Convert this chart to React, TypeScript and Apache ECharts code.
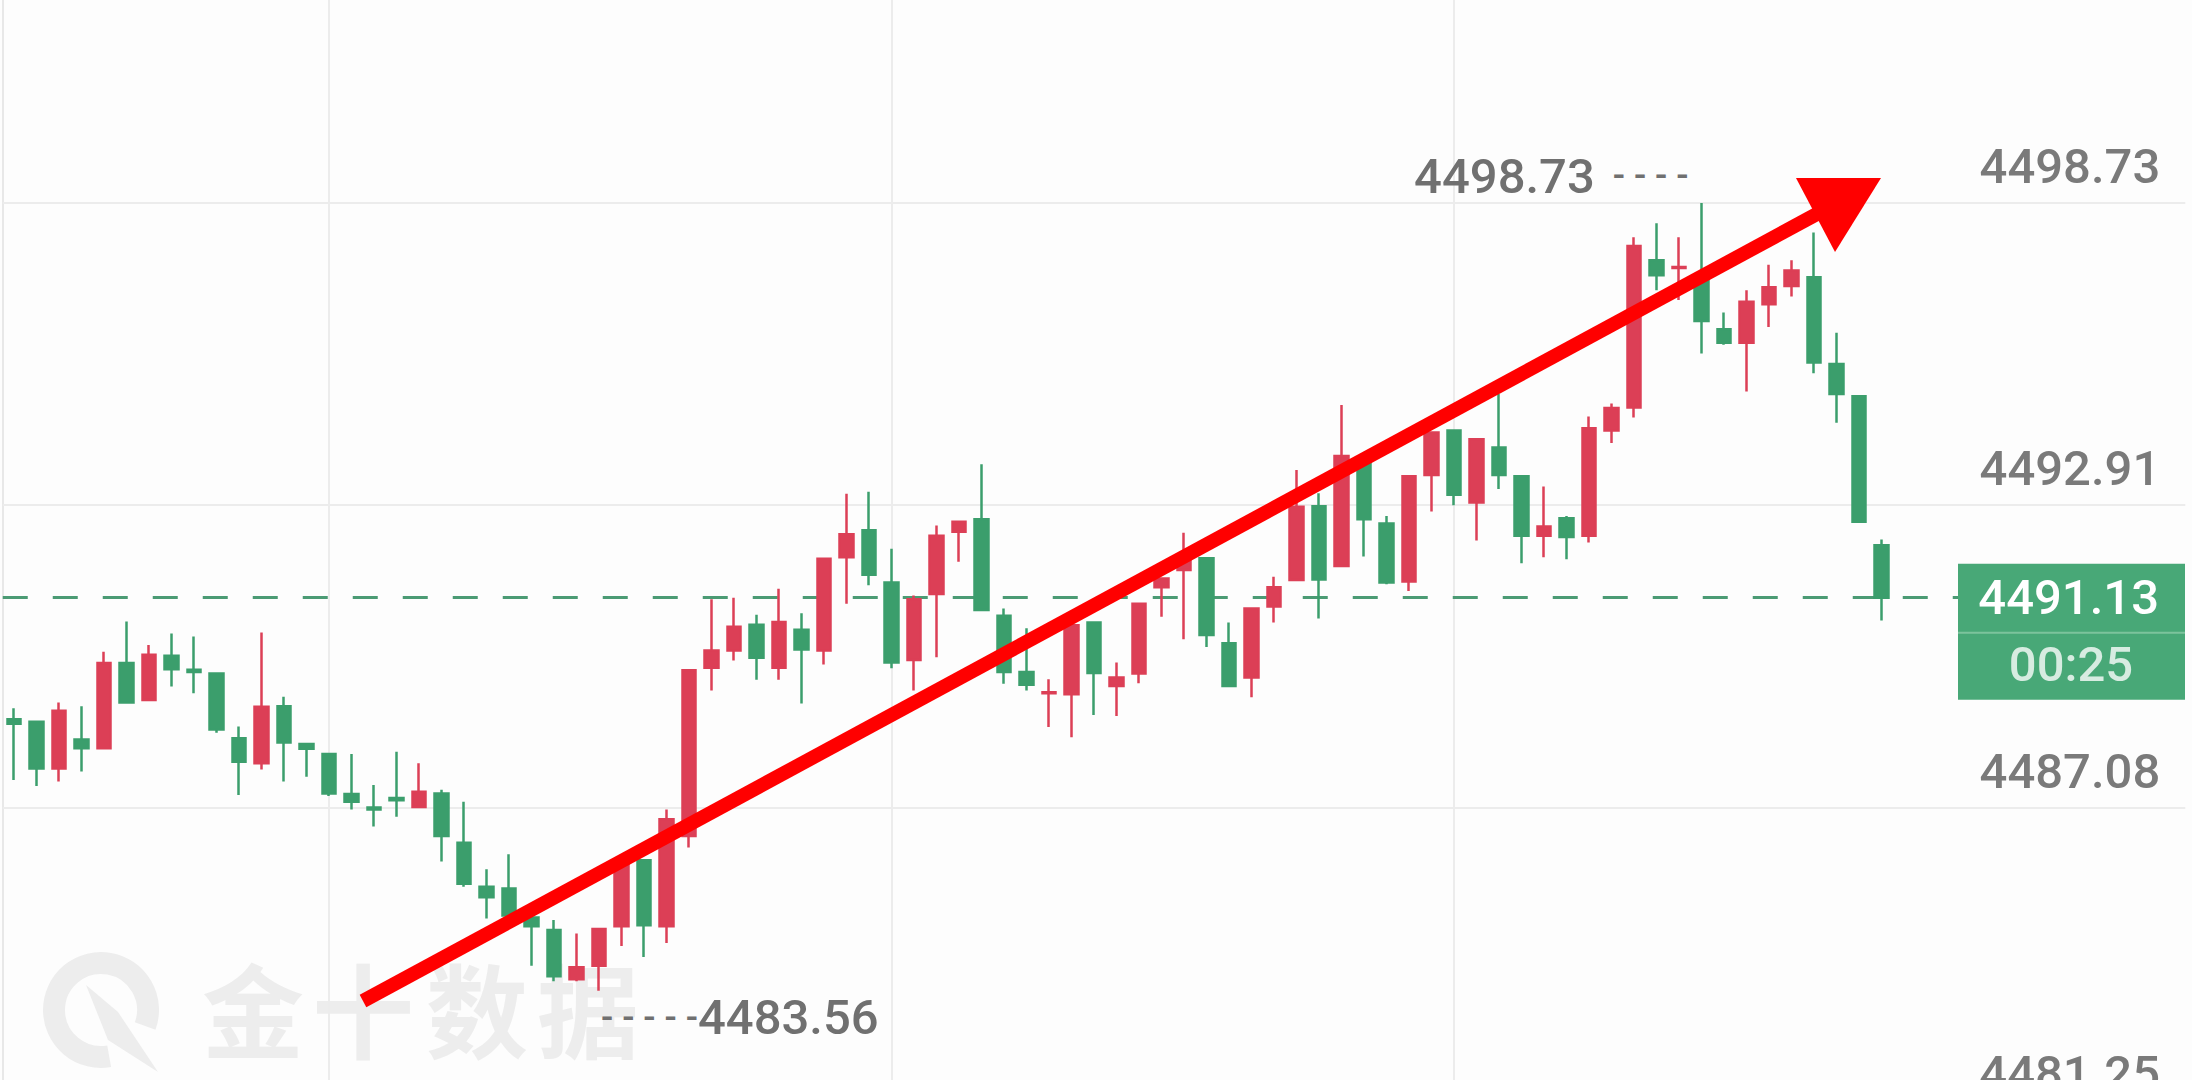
import { useEffect, useRef } from "react";
import * as echarts from "echarts";

// ---- data ----
const categories = Array.from({ length: 97 }, (_, i) => String(i));

const opens = [
  4488.79, 4488.74, 4487.84, 4488.40, 4488.23, 4489.87, 4489.16, 4490.01, 4489.74, 4489.67,
  4488.42, 4487.94, 4489.04, 4488.31, 4488.12, 4487.35, 4487.09, 4487.27, 4487.10, 4487.36,
  4486.41, 4485.56, 4485.53, 4484.97, 4484.73, 4483.78, 4484.04, 4484.80, 4486.07, 4484.80,
  4486.54, 4489.78, 4490.11, 4490.61, 4489.78, 4490.51, 4490.11, 4491.91, 4492.43, 4491.42,
  4489.93, 4491.20, 4492.40, 4492.64, 4490.78, 4489.70, 4489.29, 4489.27, 4490.65, 4489.43,
  4489.67, 4491.33, 4491.66, 4491.89, 4490.25, 4489.59, 4490.96, 4491.47, 4492.89, 4491.74,
  4493.73, 4492.56, 4491.44, 4493.49, 4494.35, 4492.96, 4494.02, 4493.47, 4492.32, 4492.66,
  4492.32, 4494.35, 4494.79, 4497.63, 4497.48, 4497.30, 4496.30, 4496.04, 4496.78, 4497.13,
  4497.30, 4495.63, 4495.01, 4492.14,
];
const closes = [
  4488.70, 4487.84, 4488.95, 4488.23, 4489.87, 4489.11, 4490.03, 4489.75, 4489.70, 4488.59,
  4487.97, 4489.03, 4488.34, 4488.22, 4487.36, 4487.20, 4487.05, 4487.23, 4487.39, 4486.54,
  4485.62, 4485.36, 4485.01, 4484.80, 4483.84, 4484.01, 4484.75, 4486.07, 4484.82, 4486.86,
  4489.73, 4490.11, 4490.57, 4489.97, 4490.66, 4490.13, 4491.88, 4492.35, 4491.57, 4489.88,
  4491.10, 4492.32, 4492.59, 4490.89, 4489.70, 4489.45, 4489.31, 4490.60, 4489.68, 4489.59,
  4491.01, 4491.50, 4491.89, 4490.41, 4489.43, 4490.92, 4491.33, 4492.88, 4491.48, 4493.86,
  4492.64, 4491.42, 4493.47, 4494.31, 4493.11, 4494.18, 4493.49, 4492.32, 4492.50, 4492.30,
  4494.39, 4494.78, 4497.90, 4497.34, 4497.50, 4496.46, 4496.04, 4496.83, 4497.11, 4497.43,
  4495.66, 4495.05, 4492.59, 4491.13,
];
const lows = [
  4487.62, 4487.50, 4487.59, 4487.78, 4488.23, 4489.11, 4489.15, 4489.42, 4489.29, 4488.53,
  4487.33, 4487.82, 4487.59, 4487.68, 4487.31, 4487.05, 4486.72, 4486.91, 4487.10, 4486.05,
  4485.56, 4484.95, 4484.98, 4484.04, 4483.74, 4483.74, 4483.56, 4484.42, 4484.21, 4484.48,
  4486.32, 4489.34, 4489.92, 4489.55, 4489.55, 4489.09, 4489.84, 4491.01, 4491.37, 4489.77,
  4489.34, 4489.98, 4491.82, 4490.89, 4489.47, 4489.34, 4488.64, 4488.44, 4488.87, 4488.85,
  4489.48, 4490.76, 4490.33, 4490.18, 4489.43, 4489.21, 4490.65, 4491.47, 4490.73, 4491.74,
  4491.92, 4491.39, 4491.26, 4492.79, 4492.91, 4492.23, 4493.22, 4491.79, 4491.91, 4491.87,
  4492.19, 4494.11, 4494.60, 4497.05, 4496.86, 4495.83, 4496.00, 4495.10, 4496.34, 4496.93,
  4495.45, 4494.50, 4492.59, 4490.69,
];
const highs = [
  4489.00, 4488.74, 4489.11, 4489.04, 4490.09, 4490.67, 4490.22, 4490.44, 4490.38, 4489.67,
  4488.65, 4490.46, 4489.22, 4488.31, 4488.12, 4488.12, 4487.52, 4488.16, 4487.94, 4487.43,
  4487.20, 4485.90, 4486.19, 4484.97, 4484.92, 4484.66, 4484.75, 4486.10, 4486.07, 4487.05,
  4489.73, 4491.10, 4491.13, 4490.80, 4491.30, 4490.83, 4491.88, 4493.13, 4493.17, 4492.07,
  4491.17, 4492.52, 4492.59, 4493.70, 4490.92, 4490.54, 4489.56, 4490.60, 4490.65, 4489.88,
  4491.03, 4491.50, 4492.38, 4491.89, 4490.65, 4490.92, 4491.53, 4493.59, 4493.14, 4494.84,
  4493.84, 4492.70, 4493.49, 4494.31, 4494.37, 4494.20, 4495.05, 4493.47, 4493.27, 4492.70,
  4494.62, 4494.87, 4498.07, 4498.34, 4498.07, 4498.73, 4496.62, 4497.05, 4497.54, 4497.63,
  4498.16, 4496.23, 4495.03, 4492.25,
];

const priceTicks = [4498.73, 4492.91, 4487.08, 4481.25];
const timeGridIndex = [14, 39, 64];
const countdownText = "00:25";
const watermarkChars = ["金", "十", "数", "据"];

const UP = "#dc3f56";
const DOWN = "#3b9e6c";
const LABEL_FONT = "Roboto";

export default function App() {
  const ref = useRef<HTMLDivElement>(null);

  useEffect(() => {
    document.body.style.margin = "0";
    const chart = echarts.init(ref.current!, null, { renderer: "svg" });
    const candleData = opens.map((o, i) => [o, closes[i], lows[i], highs[i]]);
    const last = closes[closes.length - 1];

    const gridColor = "#ececec";
    const labelBase = {
      color: "#7a7a7a",
      fontSize: 49,
      fontWeight: 500,
      fontFamily: LABEL_FONT,
    };
    const yMin = 4481.84;
    const visibleTicks = priceTicks.filter((v) => v >= yMin);
    const hiddenTicks = priceTicks.filter((v) => v < yMin);

    const markLineData: any[] = [
      ...visibleTicks.map((v) => ({
        yAxis: v,
        lineStyle: { color: gridColor, width: 2, type: "solid" },
        label: {
          show: true,
          position: "insideEndTop",
          formatter: v.toFixed(2),
          distance: [25, 12],
          ...labelBase,
        },
      })),
      ...timeGridIndex.map((idx) => ({
        xAxis: categories[idx],
        lineStyle: { color: gridColor, width: 2, type: "solid" },
        label: { show: false },
      })),
      {
        yAxis: last,
        lineStyle: { color: "#4b9b74", width: 3, type: [25, 25] },
        label: { show: false },
      },
    ];

    const richStyles = {
      v: { ...labelBase, color: "#707070" },
      d: { color: "#707070", fontSize: 36, fontFamily: LABEL_FONT, fontWeight: 500 },
    };

    const option: any = {
      animation: false,
      backgroundColor: "#fdfdfd",
      grid: { left: 2.75, top: 0, width: 97 * 22.5, height: 1080, outerBoundsMode: "none" },
      xAxis: {
        type: "category",
        data: categories,
        boundaryGap: true,
        show: false,
      },
      yAxis: {
        type: "value",
        min: yMin,
        max: 4502.64,
        scale: true,
        show: false,
        splitLine: { show: false },
      },
      series: [
        {
          type: "candlestick",
          data: candleData,
          barWidth: 14,
          z: 2,
          itemStyle: {
            color: UP,
            color0: DOWN,
            borderColor: UP,
            borderColor0: DOWN,
            borderWidth: 2.5,
          },
          markLine: {
            silent: true,
            z: 1,
            symbol: ["none", "none"],
            label: { show: false },
            data: markLineData,
          },
          markPoint: {
            silent: true,
            symbol: "circle",
            symbolSize: 0,
            data: [
              {
                type: "max",
                valueDim: "highest",
                label: {
                  show: true,
                  position: "left",
                  distance: 13,
                  offset: [0, -27],
                  rich: richStyles,
                  formatter: (p: any) => "{v|" + Number(p.value).toFixed(2) + "}{d|  - - - -}",
                },
              },
              {
                type: "min",
                valueDim: "lowest",
                label: {
                  show: true,
                  position: "right",
                  distance: 2,
                  offset: [0, 27],
                  rich: richStyles,
                  formatter: (p: any) => "{d|- - - - -}{v|" + Number(p.value).toFixed(2) + "}",
                },
              },
            ],
          },
        },
      ],
    };
    chart.setOption(option);

    const toY = (v: number) => chart.convertToPixel({ yAxisIndex: 0 }, v) as number;
    const yL = toY(last);
    const wm = "#ededed";
    const charX = [253, 363, 477, 588];

    chart.setOption({
      graphic: [
        // left edge line
        { type: "line", z: 0, silent: true, shape: { x1: 3, y1: 0, x2: 3, y2: 1080 }, style: { stroke: "#e8e8e8", lineWidth: 2 } },
        // tick labels whose line lies below the visible area (cut by the bottom edge)
        ...hiddenTicks.map((v) => ({
          type: "text",
          z: 5,
          silent: true,
          x: 2160,
          y: toY(v) - 37,
          style: {
            text: v.toFixed(2),
            fill: labelBase.color,
            fontSize: labelBase.fontSize,
            fontWeight: labelBase.fontWeight,
            fontFamily: LABEL_FONT,
            align: "right",
            verticalAlign: "middle",
          },
        })),
        // watermark logo
        {
          type: "arc",
          z: 0,
          silent: true,
          shape: { cx: 101, cy: 1010, r: 47, startAngle: (80 * Math.PI) / 180, endAngle: (380 * Math.PI) / 180 },
          style: { stroke: wm, fill: "none", lineWidth: 22 },
        },
        {
          type: "polygon",
          z: 0,
          silent: true,
          shape: { points: [[86, 985], [118, 1012], [158, 1072], [108, 1040]] },
          style: { fill: wm },
        },
        ...watermarkChars.map((c, i) => ({
          type: "text",
          z: 0,
          silent: true,
          x: charX[i],
          y: 1006,
          style: {
            text: c,
            fill: wm,
            fontSize: 102,
            fontWeight: "bold",
            fontFamily: "Noto Sans CJK SC",
            align: "center",
            verticalAlign: "middle",
          },
        })),
        // red trend arrow
        {
          type: "line",
          z: 30,
          silent: true,
          shape: { x1: 363, y1: 1001, x2: 1828, y2: 208 },
          style: { stroke: "#ff0000", lineWidth: 14 },
        },
        {
          type: "polygon",
          z: 30,
          silent: true,
          shape: { points: [[1881, 178], [1796, 178], [1835, 252]] },
          style: { fill: "#ff0000" },
        },
        // current price box
        {
          type: "rect",
          z: 20,
          silent: true,
          shape: { x: 1958, y: yL - 34, width: 227, height: 136 },
          style: { fill: "#48a877" },
        },
        {
          type: "line",
          z: 21,
          silent: true,
          shape: { x1: 1958, y1: yL + 35, x2: 2185, y2: yL + 35 },
          style: { stroke: "#7cc39c", lineWidth: 2 },
        },
        {
          type: "text",
          z: 22,
          silent: true,
          x: 2159,
          y: yL,
          style: {
            text: last.toFixed(2),
            fill: "#ffffff",
            fontSize: 49,
            fontWeight: 500,
            fontFamily: LABEL_FONT,
            align: "right",
            verticalAlign: "middle",
          },
        },
        {
          type: "text",
          z: 22,
          silent: true,
          x: 2071,
          y: yL + 67,
          style: {
            text: countdownText,
            fill: "rgba(255,255,255,0.78)",
            fontSize: 49,
            fontWeight: 500,
            fontFamily: LABEL_FONT,
            align: "center",
            verticalAlign: "middle",
          },
        },
      ],
    });

    return () => chart.dispose();
  }, []);

  return (
    <div
      ref={ref}
      style={{ position: "fixed", left: 0, top: 0, width: 2192, height: 1080, background: "#fdfdfd" }}
    />
  );
}
